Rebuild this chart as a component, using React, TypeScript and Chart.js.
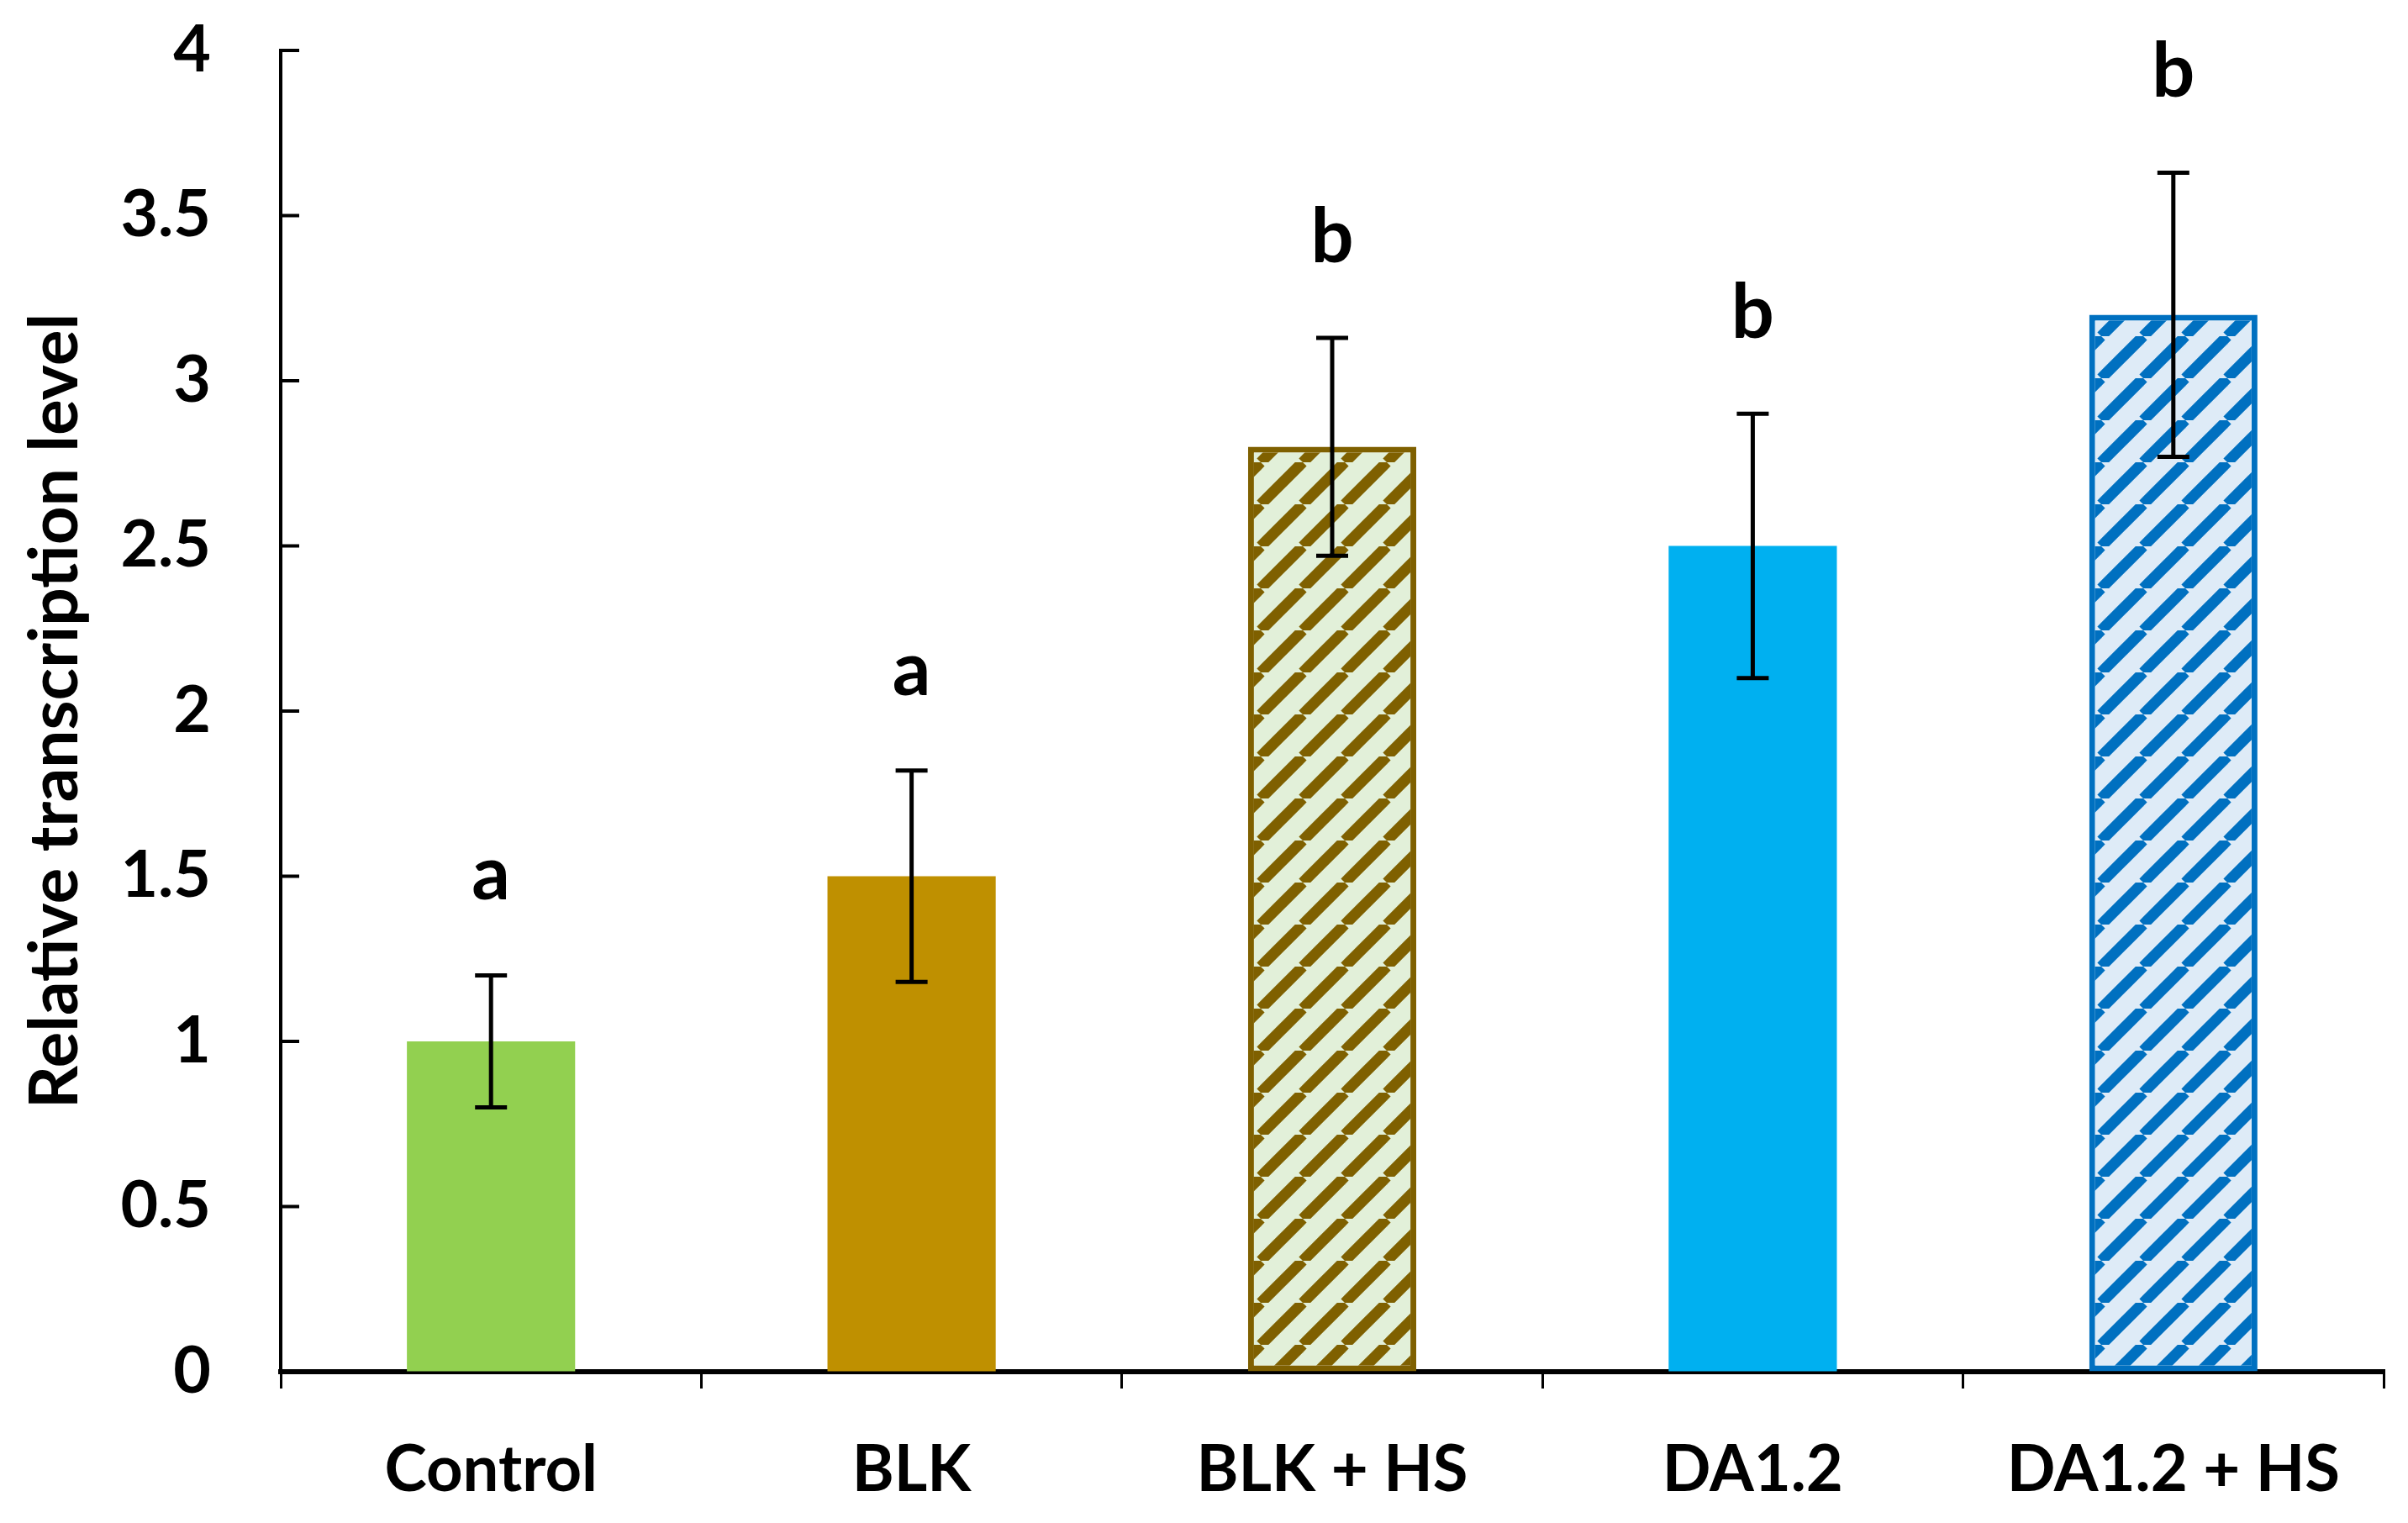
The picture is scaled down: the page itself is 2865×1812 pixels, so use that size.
import React, { useEffect, useRef } from 'react';
import { Chart, registerables } from 'chart.js';

Chart.register(...registerables);

const categories = ['Control', 'BLK', 'BLK + HS', 'DA1.2', 'DA1.2 + HS'];
const means = [1.0, 1.5, 2.8, 2.5, 3.2];
const errors = [0.2, 0.32, 0.33, 0.4, 0.43];
const letters = ['a', 'a', 'b', 'b', 'b'];
const yTicks = [0, 0.5, 1, 1.5, 2, 2.5, 3, 3.5, 4];

const FONT = 'Lato';

// diagonal hatch like Excel's "wide upward diagonal"
function makeHatch(bg: string, fg: string) {
  const size = 50;
  const c = document.createElement('canvas');
  c.width = size;
  c.height = size;
  const g = c.getContext('2d')!;
  g.fillStyle = bg;
  g.fillRect(0, 0, size, size);
  g.strokeStyle = fg;
  g.lineWidth = 13;
  for (const off of [-size, 0, size]) {
    g.beginPath();
    g.moveTo(off, size);
    g.lineTo(off + size, 0);
    g.stroke();
  }
  return g.createPattern(c, 'repeat');
}

const overlay = {
  id: 'overlay',
  afterDatasetsDraw(chart: any) {
    const ctx = chart.ctx;
    const y = chart.scales.y;
    const meta = chart.getDatasetMeta(0);
    ctx.save();
    ctx.strokeStyle = '#000';
    ctx.fillStyle = '#000';
    ctx.lineWidth = 5;
    meta.data.forEach((bar: any, i: number) => {
      const x = bar.x;
      const top = y.getPixelForValue(means[i] + errors[i]);
      const bot = y.getPixelForValue(means[i] - errors[i]);
      ctx.beginPath();
      ctx.moveTo(x, top);
      ctx.lineTo(x, bot);
      ctx.moveTo(x - 19, top);
      ctx.lineTo(x + 19, top);
      ctx.moveTo(x - 19, bot);
      ctx.lineTo(x + 19, bot);
      ctx.stroke();
      ctx.font = `bold 90px ${FONT}`;
      ctx.textAlign = 'center';
      ctx.textBaseline = 'alphabetic';
      ctx.fillText(letters[i], x, top - 90);
    });
    // y ticks point inward
    ctx.lineWidth = 4;
    const ax = y.right;
    yTicks.forEach((v) => {
      const py = y.getPixelForValue(v);
      ctx.beginPath();
      ctx.moveTo(ax, py);
      ctx.lineTo(ax + 22, py);
      ctx.stroke();
    });
    ctx.restore();
  },
};

export default function App() {
  const canvasRef = useRef<HTMLCanvasElement>(null);

  useEffect(() => {
    const fills = [
      '#92D050',
      '#BF9000',
      makeHatch('#E2F0D9', '#7F6000'),
      '#00B0F0',
      makeHatch('#DEEBF7', '#0070C0'),
    ];
    const chart = new Chart(canvasRef.current!, {
      type: 'bar',
      data: {
        labels: categories,
        datasets: [
          {
            data: means,
            backgroundColor: fills as any,
            borderColor: ['rgba(0,0,0,0)', 'rgba(0,0,0,0)', '#7F6000', 'rgba(0,0,0,0)', '#0070C0'],
            borderWidth: [0, 0, 7, 0, 7],
            borderSkipped: false,
            barPercentage: 0.4,
            categoryPercentage: 1,
          },
        ],
      },
      options: {
        animation: false,
        responsive: true,
        maintainAspectRatio: false,
        layout: { padding: { left: 0, right: 29, top: 60, bottom: 0 } },
        plugins: { legend: { display: false }, tooltip: { enabled: false } },
        scales: {
          x: {
            z: 1,
            grid: {
              offset: true,
              drawOnChartArea: false,
              drawTicks: true,
              tickLength: 20,
              color: '#000',
              lineWidth: 3,
            },
            border: { display: true, color: '#000', width: 6 },
            ticks: {
              color: '#000',
              font: { family: FONT, weight: 'bold', size: 76 },
              padding: 52,
            },
            afterFit: (s: any) => {
              s.height = 180;
              s.paddingLeft = 0;
              s.paddingRight = 0;
            },
          },
          y: {
            min: 0,
            max: 4,
            afterBuildTicks: (s: any) => {
              s.ticks = yTicks.map((v) => ({ value: v }));
            },
            grid: { drawOnChartArea: false, drawTicks: false },
            border: { display: true, color: '#000', width: 4 },
            ticks: {
              color: '#000',
              font: { family: FONT, weight: 'bold', size: 77 },
              padding: 83,
              callback: (v: any) => String(v),
            },
            title: {
              display: true,
              text: 'Relative transcription level',
              color: '#000',
              font: { family: FONT, weight: 'bold', size: 80 },
              padding: { top: 18, bottom: 0 },
            },
            afterFit: (s: any) => {
              s.width = 334;
              s.paddingTop = 0;
              s.paddingBottom = 0;
            },
          },
        },
      },
      plugins: [overlay],
    });
    return () => {
      chart.destroy();
    };
  }, []);

  return (
    <div style={{ position: 'absolute', left: 0, top: 0, width: 2865, height: 1812, background: '#fff' }}>
      <canvas ref={canvasRef} />
    </div>
  );
}
